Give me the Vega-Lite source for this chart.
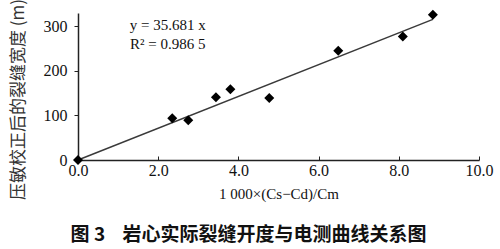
{
  "$schema": "https://vega.github.io/schema/vega-lite/v6.json",
  "width": 401,
  "height": 147,
  "autosize": {"type": "none"},
  "padding": {"left": 78, "top": 13, "right": 21, "bottom": 89},
  "background": "white",
  "config": {"view": {"stroke": null}, "font": "Liberation Serif"},
  "title": {
    "text": "图 3\u00a0\u00a0\u00a0 岩心实际裂缝开度与电测曲线关系图",
    "orient": "bottom",
    "font": "Noto Sans CJK SC",
    "fontSize": 19,
    "fontWeight": "bold",
    "color": "#111",
    "offset": 25,
    "anchor": "middle",
    "dx": -30
  },
  "datasets": {
    "pts": [
      {"x": 0, "y": 0},
      {"x": 2.35, "y": 94},
      {"x": 2.75, "y": 89},
      {"x": 3.44, "y": 141},
      {"x": 3.8, "y": 159},
      {"x": 4.77, "y": 139},
      {"x": 6.49, "y": 245},
      {"x": 8.1, "y": 277},
      {"x": 8.85, "y": 326}
    ],
    "fit": [
      {"x": 0, "y": 0},
      {"x": 8.85, "y": 315.8}
    ],
    "notes": [
      {"t": "y = 35.681 x", "x": 2.24, "y": 304},
      {"t": "R² = 0.986 5", "x": 2.24, "y": 261}
    ]
  },
  "layer": [
    {
      "data": {"name": "fit"},
      "mark": {"type": "line", "color": "#3a3a3a", "strokeWidth": 1.5},
      "encoding": {
        "x": {
          "field": "x", "type": "quantitative",
          "scale": {"domain": [0, 10], "nice": false},
          "axis": {
            "title": "1 000×(Cs−Cd)/Cm",
            "titleFont": "Liberation Serif",
            "titleFontSize": 15,
            "titleFontWeight": "normal",
            "titleColor": "#111",
            "titlePadding": 8,
            "values": [0, 2, 4, 6, 8, 10],
            "format": ".1f",
            "labelFont": "Liberation Serif",
            "labelFontSize": 16,
            "labelColor": "#111",
            "labelPadding": 6,
            "labelFlush": false,
            "labelOverlap": false,
            "tickSize": -4,
            "domainColor": "#222",
            "tickColor": "#222",
            "domainWidth": 1.5,
            "grid": false
          }
        },
        "y": {
          "field": "y", "type": "quantitative",
          "scale": {"domain": [0, 330], "nice": false},
          "axis": {
            "title": "压敏校正后的裂缝宽度 (m)",
            "titleFont": "Noto Sans CJK SC",
            "titleFontSize": 17,
            "titleFontWeight": "normal",
            "titleColor": "#333",
            "titleX": -51,
            "titleY": 86,
            "values": [0, 100, 200, 300],
            "labelFont": "Liberation Serif",
            "labelFontSize": 16,
            "labelColor": "#111",
            "labelPadding": 7,
            "labelFlush": false,
            "labelOverlap": false,
            "tickSize": 4,
            "domainColor": "#222",
            "tickColor": "#222",
            "domainWidth": 1.5,
            "grid": false
          }
        }
      }
    },
    {
      "data": {"name": "pts"},
      "mark": {"type": "point", "shape": "diamond", "filled": true, "color": "#000", "size": 100, "opacity": 1},
      "encoding": {
        "x": {"field": "x", "type": "quantitative"},
        "y": {"field": "y", "type": "quantitative"}
      }
    },
    {
      "data": {"name": "notes"},
      "mark": {"type": "text", "font": "Liberation Serif", "fontSize": 15, "color": "#111", "align": "center", "baseline": "middle"},
      "encoding": {
        "x": {"field": "x", "type": "quantitative"},
        "y": {"field": "y", "type": "quantitative"},
        "text": {"field": "t"}
      }
    }
  ]
}
